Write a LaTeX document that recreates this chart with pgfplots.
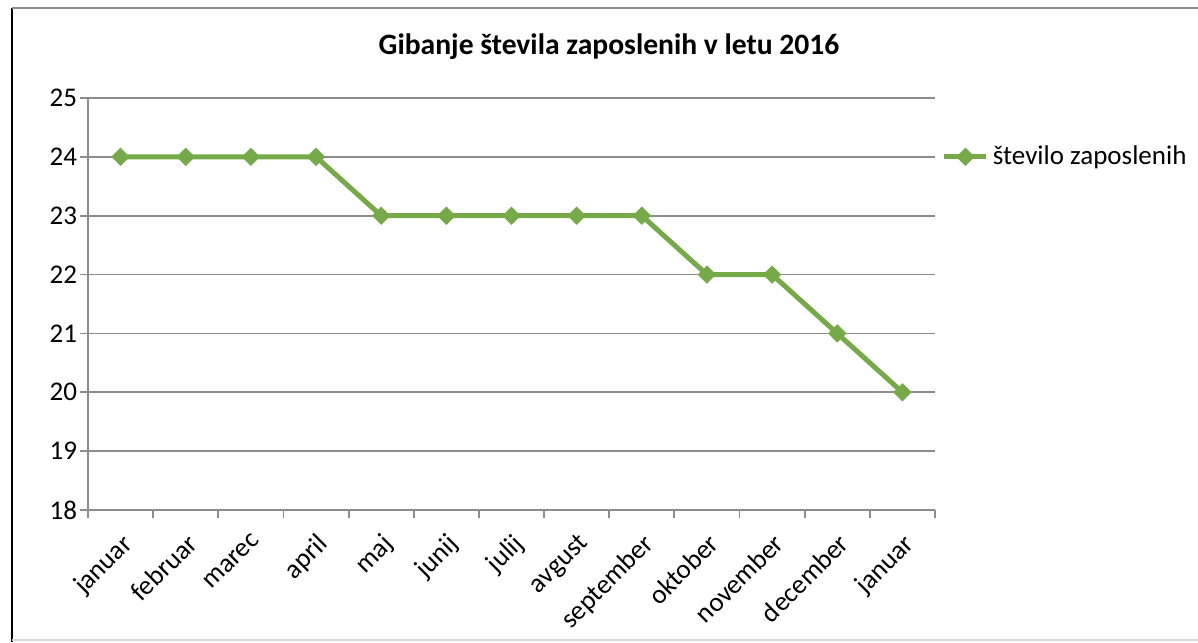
\documentclass[border=0pt]{standalone}
\usepackage{pgfplots}
\pgfplotsset{compat=1.18}
\usepackage{fontspec}
\setmainfont{Carlito}
\definecolor{serieGreen}{RGB}{118,170,72}
\definecolor{gridGray}{RGB}{140,140,140}
\begin{document}
\begin{tikzpicture}
% 1 px of the reference = 0.5pt
\path[use as bounding box] (0pt,0pt) rectangle (599pt,321pt);
\draw[black, line width=1.2pt] (6pt,0pt) -- (6pt,317pt);
\draw[gridGray, line width=1pt] (6pt,317pt) -- (599pt,317pt);
\draw[black!15, line width=0.6pt] (6pt,1pt) -- (599pt,1pt);
\node[font=\fontsize{14.8}{17}\selectfont\bfseries] at (304.5pt,297.5pt) {Gibanje števila zaposlenih v letu 2016};
\begin{axis}[
    at={(44pt,66pt)}, anchor=south west,
    width=423.5pt, height=206pt, scale only axis,
    xmin=-0.5, xmax=12.5,
    ymin=18, ymax=25,
    axis lines*=left,
    axis line style={gridGray, line width=0.9pt},
    xtick={-0.5,0.5,...,12.5},
    x tick label as interval,
    xticklabels={januar,februar,marec,april,maj,junij,julij,avgust,september,oktober,november,december,januar},
    ytick={18,19,...,25},
    xtick pos=bottom, ytick pos=left,
    xtick align=outside, ytick align=outside,
    major tick length=4pt,
    major tick style={gridGray, line width=0.9pt},
    ymajorgrids,
    grid style={gridGray, line width=0.9pt},
    /pgf/number format/assume math mode=true,
    ticklabel style={font=\fontsize{13.5}{16}\selectfont, black},
    yticklabel style={xshift=2pt},
    xticklabel style={rotate=45, anchor=north east, inner sep=2pt},
    xticklabel shift=4pt,
    legend style={at={(axis cs:12.6,24)}, anchor=west, draw=none, fill=none,
        font=\fontsize{13.5}{16}\selectfont, inner sep=0pt},
    legend cell align=left,
    legend image code/.code={
        \draw[#1, mark repeat=2, mark phase=2] plot coordinates {(0pt,0pt) (10.5pt,0pt) (21pt,0pt)};
    },
]
\addplot[serieGreen, line width=2.5pt, mark=square*, mark size=3pt,
    mark options={rotate=45, solid, fill=serieGreen, draw=serieGreen, line width=0.5pt}]
    coordinates {
    (0,24)(1,24)(2,24)(3,24)(4,23)(5,23)(6,23)(7,23)(8,23)(9,22)(10,22)(11,21)(12,20)
    };
\addlegendentry{število zaposlenih}
\end{axis}
\end{tikzpicture}
\end{document}
